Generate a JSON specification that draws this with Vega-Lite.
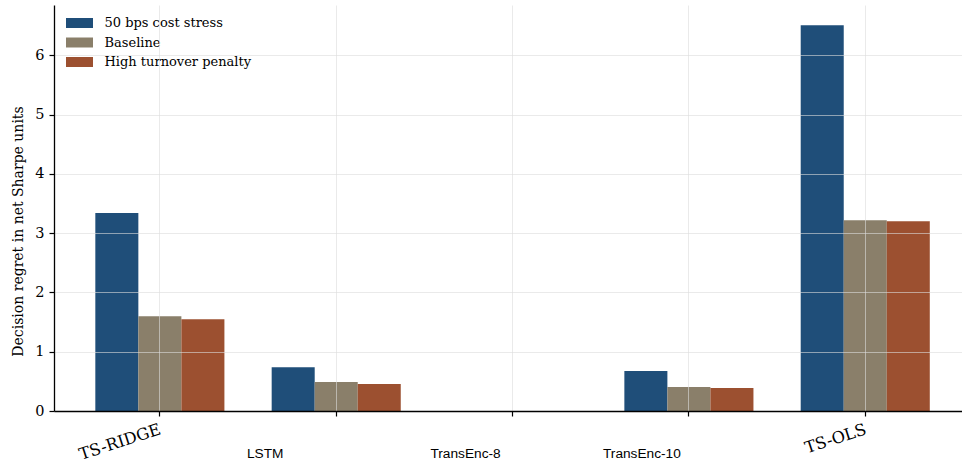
{
  "$schema": "https://vega.github.io/schema/vega-lite/v6.json",
  "width": 908,
  "height": 406,
  "autosize": {"type": "none"},
  "padding": {"left": 54, "top": 5, "right": 0, "bottom": 54},
  "background": "white",
  "config": {
    "view": {"stroke": null},
    "bar": {"stroke": null}
  },
  "data": {
    "values": [
      {"model": "TS-RIDGE", "scenario": "50 bps cost stress", "regret": 3.34},
      {"model": "TS-RIDGE", "scenario": "Baseline", "regret": 1.6},
      {"model": "TS-RIDGE", "scenario": "High turnover penalty", "regret": 1.55},
      {"model": "LSTM", "scenario": "50 bps cost stress", "regret": 0.74},
      {"model": "LSTM", "scenario": "Baseline", "regret": 0.49},
      {"model": "LSTM", "scenario": "High turnover penalty", "regret": 0.455},
      {"model": "TransEnc-10", "scenario": "50 bps cost stress", "regret": 0.675},
      {"model": "TransEnc-10", "scenario": "Baseline", "regret": 0.405},
      {"model": "TransEnc-10", "scenario": "High turnover penalty", "regret": 0.39},
      {"model": "TS-OLS", "scenario": "50 bps cost stress", "regret": 6.51},
      {"model": "TS-OLS", "scenario": "Baseline", "regret": 3.22},
      {"model": "TS-OLS", "scenario": "High turnover penalty", "regret": 3.2}
    ]
  },
  "encoding": {
    "xOffset": {
      "field": "scenario",
      "type": "nominal",
      "scale": {"paddingInner": 0, "paddingOuter": 0}
    },
    "y": {
      "field": "regret",
      "type": "quantitative",
      "scale": {"domain": [0, 6.85], "nice": false, "zero": true},
      "axis": {
        "title": "Decision regret in net Sharpe units",
        "titleFont": "DejaVu Serif",
        "titleFontSize": 14,
        "titleFontWeight": "normal",
        "titleColor": "#000000",
        "titlePadding": 9,
        "titleY": 226,
        "values": [0, 1, 2, 3, 4, 5, 6],
        "format": "d",
        "labelFont": "DejaVu Serif",
        "labelFontSize": 14.5,
        "labelColor": "#000000",
        "labelPadding": 5,
        "tickSize": 5,
        "tickColor": "#000000",
        "tickWidth": 1.2,
        "domainColor": "#000000",
        "domainWidth": 1.3,
        "grid": true,
        "gridColor": "#dcdcdc",
        "gridOpacity": 0.6,
        "gridWidth": 1,
        "zindex": 1
      }
    },
    "color": {
      "field": "scenario",
      "type": "nominal",
      "scale": {
        "domain": ["50 bps cost stress", "Baseline", "High turnover penalty"],
        "range": ["#1f4e79", "#8a7f6a", "#9c5030"]
      },
      "legend": {
        "title": null,
        "orient": "none",
        "legendX": 12,
        "legendY": 11,
        "padding": 0,
        "labelFont": "DejaVu Serif",
        "labelFontSize": 13,
        "labelColor": "#000000",
        "labelOffset": 18,
        "symbolType": "M-1.9286,-0.714L1.9286,-0.714L1.9286,0.714L-1.9286,0.714Z",
        "symbolSize": 196,
        "symbolOffset": 6.5,
        "symbolStrokeWidth": 0,
        "symbolOpacity": 1,
        "rowPadding": 5.5
      }
    }
  },
  "layer": [
    {
      "mark": {"type": "bar"},
      "encoding": {
        "x": {
          "field": "model",
          "type": "nominal",
          "sort": ["TS-RIDGE", "LSTM", "TransEnc-8", "TransEnc-10", "TS-OLS"],
          "scale": {
            "domain": ["TS-RIDGE", "LSTM", "TransEnc-8", "TransEnc-10", "TS-OLS"],
            "paddingInner": 0.268,
            "paddingOuter": 0.2085,
            "align": 0.562
          },
          "axis": {
            "orient": "bottom",
            "title": null,
            "bandPosition": 0.5,
            "domainColor": "#000000",
            "domainWidth": 1.3,
            "tickColor": "#000000",
            "tickWidth": 1.2,
            "tickSize": 5,
            "grid": true,
            "gridColor": "#dcdcdc",
            "gridOpacity": 0.6,
            "gridWidth": 1,
            "zindex": 1,
            "labelExpr": "indexof(['TS-RIDGE','TS-OLS'], datum.value) >= 0 ? datum.value : ''",
            "labelFont": "DejaVu Serif",
            "labelFontSize": 16.3,
            "labelColor": "#000000",
            "labelAngle": -18,
            "labelAlign": "right",
            "labelBaseline": "top",
            "labelPadding": 5,
            "labelOffset": -2,
            "labelOverlap": false
          }
        }
      }
    },
    {
      "mark": {"type": "bar", "opacity": 0},
      "encoding": {
        "x": {
          "field": "model",
          "type": "nominal",
          "sort": ["TS-RIDGE", "LSTM", "TransEnc-8", "TransEnc-10", "TS-OLS"],
          "scale": {
            "domain": ["TS-RIDGE", "LSTM", "TransEnc-8", "TransEnc-10", "TS-OLS"],
            "paddingInner": 0.268,
            "paddingOuter": 0.2085,
            "align": 0.562
          },
          "axis": {
            "orient": "bottom",
            "title": null,
            "bandPosition": 0.5,
            "domain": false,
            "ticks": false,
            "tickSize": 0,
            "grid": false,
            "labelExpr": "indexof(['TS-RIDGE','TS-OLS'], datum.value) >= 0 ? '' : datum.value",
            "labelFont": "Liberation Sans",
            "labelFontSize": 13.7,
            "labelColor": "#000000",
            "labelAngle": 0,
            "labelAlign": "center",
            "labelBaseline": "alphabetic",
            "labelPadding": 46,
            "labelOffset": {"condition": {"test": "datum.value === 'LSTM'", "value": -71}, "value": -47},
            "labelOverlap": false
          }
        }
      }
    }
  ],
  "resolve": {"axis": {"x": "independent"}}
}
